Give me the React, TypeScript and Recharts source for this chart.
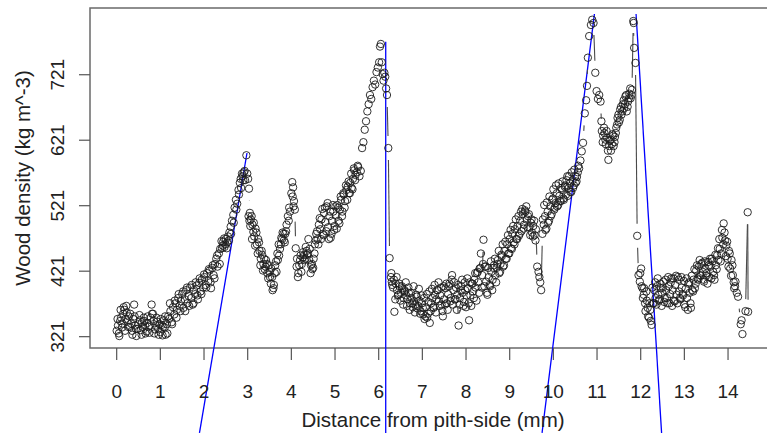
import { ScatterChart, Scatter, XAxis, YAxis, ReferenceLine, ReferenceArea } from 'recharts'

// density profile, ring by ring: [distance mm, density kg m^-3]
const ringA = [
  [0.00, 330], [0.03, 338], [0.05, 326], [0.08, 345], [0.10, 350], [0.13, 341], [0.15, 356], [0.18, 362],
  [0.20, 348], [0.23, 358], [0.25, 344], [0.28, 352], [0.30, 336], [0.33, 341], [0.35, 330], [0.38, 348],
  [0.40, 370], [0.42, 338], [0.45, 322], [0.48, 333], [0.50, 340], [0.53, 346], [0.55, 331], [0.58, 343],
  [0.60, 336], [0.63, 345], [0.65, 338], [0.68, 329], [0.70, 342], [0.73, 336], [0.75, 327], [0.78, 350],
  [0.80, 370], [0.83, 356], [0.85, 345], [0.88, 332], [0.90, 338], [0.93, 344], [0.95, 333], [0.98, 340],
  [1.00, 328], [1.03, 339], [1.05, 323], [1.08, 346], [1.10, 335], [1.12, 324], [1.15, 340], [1.18, 352],
]

const ringB = [
  [1.20, 348], [1.23, 360], [1.26, 343], [1.29, 366], [1.32, 355], [1.35, 372], [1.38, 362], [1.41, 380],
  [1.44, 368], [1.47, 375], [1.50, 386], [1.53, 365], [1.56, 378], [1.59, 392], [1.62, 372], [1.65, 383],
  [1.68, 396], [1.71, 380], [1.74, 370], [1.77, 392], [1.80, 386], [1.83, 399], [1.86, 378], [1.89, 403],
  [1.92, 390], [1.95, 408], [1.98, 396], [2.01, 412], [2.04, 400], [2.07, 418], [2.10, 406], [2.13, 422],
  [2.16, 395], [2.19, 426], [2.22, 415], [2.25, 432], [2.28, 440], [2.31, 428], [2.34, 448], [2.37, 455],
  [2.40, 467], [2.43, 460], [2.46, 471], [2.49, 462], [2.52, 456], [2.55, 474], [2.58, 480], [2.61, 489],
  [2.64, 498], [2.67, 507], [2.70, 518], [2.73, 530], [2.76, 524], [2.79, 545], [2.82, 556], [2.85, 548],
  [2.88, 566], [2.91, 572], [2.94, 560], [2.97, 598],
]

const ringC = [
  [2.99, 570], [3.01, 562], [3.03, 547], [3.05, 510], [3.07, 500], [3.09, 505], [3.11, 492], [3.13, 481],
  [3.15, 474], [3.18, 486], [3.21, 462], [3.24, 470], [3.27, 452], [3.30, 440], [3.33, 446], [3.36, 432],
  [3.39, 424], [3.42, 438], [3.45, 418], [3.48, 430], [3.51, 412], [3.54, 425], [3.57, 392], [3.60, 400],
  [3.62, 418], [3.65, 436], [3.68, 448], [3.71, 462], [3.74, 455], [3.77, 472], [3.80, 480], [3.83, 468],
  [3.86, 478], [3.89, 492], [3.92, 505], [3.95, 518], [3.97, 512], [4.00, 540], [4.02, 557], [4.04, 549],
  [4.06, 528], [4.08, 515], [4.10, 456], [4.13, 440], [4.15, 412], [4.18, 430], [4.21, 445], [4.24, 432],
  [4.27, 450], [4.30, 438], [4.33, 458], [4.36, 446], [4.39, 470], [4.42, 455], [4.45, 430], [4.48, 424],
  [4.51, 440], [4.54, 462], [4.57, 478], [4.60, 470], [4.63, 492], [4.66, 485], [4.69, 500], [4.72, 478],
  [4.75, 510], [4.78, 496], [4.81, 520], [4.84, 488], [4.87, 505], [4.90, 472], [4.93, 498], [4.96, 512],
  [4.99, 490], [5.02, 506], [5.05, 522], [5.08, 498], [5.11, 515], [5.14, 530], [5.17, 512], [5.20, 538],
  [5.23, 528], [5.26, 545], [5.29, 550], [5.32, 540], [5.35, 556], [5.38, 548], [5.41, 562], [5.44, 575],
  [5.47, 568], [5.50, 572], [5.53, 580], [5.56, 566], [5.59, 574], [5.62, 609], [5.65, 618], [5.68, 637],
  [5.71, 650], [5.74, 665], [5.77, 676], [5.80, 690], [5.83, 684], [5.86, 702], [5.89, 712], [5.92, 706],
  [5.95, 725], [5.98, 732], [6.01, 740], [6.03, 764], [6.05, 768], [6.07, 740], [6.09, 722], [6.11, 712],
  [6.13, 724], [6.15, 718], [6.17, 700], [6.19, 690], [6.22, 609], [6.25, 441],
]

const ringD = [
  [6.28, 412], [6.30, 405], [6.33, 396], [6.36, 359], [6.39, 402], [6.42, 392], [6.45, 385], [6.48, 398],
  [6.51, 388], [6.54, 395], [6.57, 380], [6.60, 390], [6.63, 384], [6.66, 378], [6.69, 388], [6.72, 372],
  [6.75, 380], [6.78, 366], [6.81, 375], [6.84, 370], [6.87, 382], [6.90, 368], [6.93, 376], [6.96, 360],
  [6.99, 372], [7.02, 355], [7.05, 348], [7.08, 366], [7.11, 350], [7.14, 374], [7.17, 342], [7.20, 372],
  [7.23, 380], [7.26, 365], [7.29, 385], [7.32, 378], [7.35, 392], [7.38, 375], [7.41, 384], [7.44, 370],
  [7.47, 352], [7.50, 378], [7.53, 395], [7.56, 372], [7.59, 386], [7.62, 402], [7.65, 380], [7.68, 415],
  [7.71, 392], [7.74, 378], [7.77, 396], [7.80, 385], [7.83, 338], [7.86, 380], [7.89, 398], [7.92, 388],
  [7.95, 374], [7.98, 392], [8.01, 384], [8.04, 395], [8.07, 346], [8.10, 384], [8.13, 402], [8.16, 390],
  [8.19, 408], [8.22, 396], [8.25, 418], [8.28, 404], [8.31, 425], [8.34, 448], [8.37, 415], [8.40, 469],
  [8.43, 428], [8.46, 405], [8.49, 385], [8.52, 412], [8.55, 398], [8.58, 420], [8.61, 408], [8.64, 430],
  [8.67, 415], [8.70, 426], [8.73, 438], [8.76, 418], [8.79, 432], [8.82, 444], [8.85, 428], [8.88, 452],
  [8.91, 440], [8.94, 462], [8.97, 448], [9.00, 470], [9.03, 456], [9.06, 478], [9.09, 465], [9.12, 485],
  [9.15, 470], [9.18, 490], [9.21, 475], [9.24, 498], [9.27, 482], [9.30, 508], [9.33, 492], [9.36, 512],
  [9.39, 500], [9.42, 505], [9.45, 488], [9.48, 495], [9.51, 480], [9.54, 490], [9.57, 476], [9.60, 485],
  [9.63, 428], [9.66, 420], [9.68, 412], [9.70, 404], [9.72, 392],
]

const ringE = [
  [9.75, 478], [9.78, 492], [9.81, 505], [9.84, 486], [9.87, 512], [9.90, 498], [9.93, 520], [9.96, 508],
  [9.99, 532], [10.02, 515], [10.05, 525], [10.08, 540], [10.11, 522], [10.14, 536], [10.17, 528], [10.20, 545],
  [10.23, 532], [10.26, 550], [10.29, 538], [10.32, 566], [10.35, 548], [10.38, 555], [10.41, 542], [10.44, 560],
  [10.47, 552], [10.50, 566], [10.53, 558], [10.56, 572], [10.59, 578], [10.62, 590], [10.65, 604], [10.68, 617],
  [10.72, 662], [10.75, 682], [10.77, 704], [10.79, 747], [10.82, 780], [10.86, 797], [10.89, 805], [10.92, 800],
  [10.96, 724], [10.99, 696], [11.02, 684], [11.05, 690], [11.08, 680], [11.11, 635], [11.14, 628], [11.17, 632],
  [11.20, 615], [11.23, 625], [11.26, 591], [11.29, 620], [11.32, 605], [11.35, 630], [11.38, 612], [11.41, 626],
  [11.44, 640], [11.47, 655], [11.50, 648], [11.53, 668], [11.56, 660], [11.59, 676], [11.62, 670], [11.65, 688],
  [11.68, 665], [11.71, 680], [11.74, 692], [11.77, 685], [11.80, 698], [11.83, 803], [11.85, 762], [11.88, 739],
]

const ringF = [
  [11.92, 475], [11.95, 415], [11.98, 405], [12.01, 425], [12.04, 395], [12.07, 385], [12.10, 372], [12.13, 390],
  [12.16, 365], [12.19, 350], [12.22, 362], [12.25, 339], [12.28, 372], [12.31, 392], [12.34, 380], [12.37, 398],
  [12.40, 385], [12.43, 378], [12.46, 395], [12.49, 388], [12.52, 405], [12.55, 380], [12.58, 392], [12.61, 372],
  [12.64, 398], [12.67, 386], [12.70, 410], [12.73, 392], [12.76, 376], [12.79, 400], [12.82, 385], [12.85, 412],
  [12.88, 390], [12.91, 378], [12.94, 396], [12.97, 384], [13.00, 370], [13.03, 394], [13.06, 380], [13.09, 402],
  [13.12, 388], [13.15, 365], [13.18, 392], [13.21, 408], [13.24, 395], [13.27, 422], [13.30, 410], [13.33, 428],
  [13.36, 415], [13.39, 432], [13.42, 420], [13.45, 405], [13.48, 425], [13.51, 418], [13.54, 435], [13.57, 412],
  [13.60, 428], [13.63, 440], [13.66, 420], [13.69, 408], [13.72, 430], [13.75, 445], [13.78, 438], [13.81, 455],
  [13.84, 448], [13.87, 472], [13.90, 494], [13.93, 468], [13.96, 460], [13.99, 440], [14.02, 452], [14.05, 425],
  [14.08, 438], [14.11, 415], [14.14, 395], [14.17, 405], [14.20, 388], [14.23, 382], [14.29, 340], [14.31, 346],
  [14.33, 325], [14.40, 360], [14.45, 511], [14.46, 359],
]

// the remaining overplotted measurements inside the dense bands (no connecting line visible there)
const cloudEarly = [
  [0.02, 348], [0.06, 322], [0.09, 362], [0.12, 335], [0.16, 366], [0.19, 330], [0.22, 368], [0.26, 336],
  [0.31, 356], [0.36, 324], [0.41, 352], [0.44, 333], [0.52, 354], [0.57, 324], [0.62, 350], [0.66, 326],
  [0.71, 352], [0.76, 338], [0.81, 356], [0.86, 326], [0.91, 350], [0.96, 324], [1.01, 348], [1.06, 336],
  [1.11, 352], [1.16, 326], [1.22, 372], [1.27, 340], [1.33, 376], [1.37, 350], [1.42, 386], [1.46, 360],
  [1.52, 390], [1.57, 360], [1.61, 396], [1.66, 368], [1.72, 400], [1.76, 372], [1.81, 404], [1.85, 384],
  [1.90, 410], [1.94, 386], [2.00, 416], [2.05, 396], [2.11, 424], [2.15, 404], [2.20, 430], [2.24, 410],
  [2.30, 445], [2.36, 432], [2.41, 456], [2.44, 466], [2.47, 458], [2.50, 470], [2.53, 465], [2.57, 468],
  [2.62, 478], [2.68, 495], [2.74, 515], [2.80, 538], [2.84, 562], [2.87, 570], [2.90, 560], [2.93, 574],
]

const cloudMid = [
  [3.02, 505], [3.04, 498], [3.06, 490], [3.10, 470], [3.14, 495], [3.17, 460], [3.20, 480], [3.23, 448],
  [3.26, 465], [3.29, 430], [3.32, 452], [3.35, 422], [3.38, 440], [3.41, 428], [3.44, 432], [3.47, 410],
  [3.50, 420], [3.53, 402], [3.56, 412], [3.59, 395], [3.63, 430], [3.66, 420], [3.69, 438], [3.72, 445],
  [3.76, 462], [3.79, 470], [3.82, 478], [3.85, 465], [3.88, 482], [3.94, 498], [4.03, 535], [4.05, 520],
  [4.12, 428], [4.16, 418], [4.20, 438], [4.23, 420], [4.26, 442], [4.29, 446], [4.32, 440], [4.35, 452],
  [4.38, 448], [4.41, 438], [4.44, 418], [4.47, 432], [4.50, 426], [4.53, 448], [4.56, 468], [4.59, 482],
  [4.62, 462], [4.65, 502], [4.68, 470], [4.71, 516], [4.74, 476], [4.77, 518], [4.80, 482], [4.83, 525],
  [4.86, 470], [4.89, 512], [4.92, 478], [4.95, 522], [4.98, 484], [5.01, 520], [5.04, 486], [5.07, 518],
  [5.10, 494], [5.13, 535], [5.16, 505], [5.19, 540], [5.22, 518], [5.25, 552], [5.28, 530], [5.31, 558],
  [5.34, 540], [5.37, 570], [5.40, 546], [5.43, 578], [5.46, 560], [5.52, 582],
]

const cloudLate = [
  [6.29, 418], [6.31, 400], [6.35, 408], [6.38, 378], [6.41, 412], [6.44, 384], [6.47, 402], [6.50, 376],
  [6.53, 398], [6.56, 370], [6.59, 392], [6.62, 404], [6.65, 368], [6.68, 396], [6.71, 362], [6.74, 388],
  [6.77, 372], [6.80, 398], [6.83, 358], [6.86, 385], [6.89, 364], [6.92, 394], [6.95, 356], [6.98, 384],
  [7.01, 365], [7.04, 380], [7.07, 352], [7.10, 386], [7.13, 356], [7.16, 390], [7.19, 360], [7.22, 394],
  [7.25, 366], [7.28, 400], [7.31, 358], [7.34, 392], [7.37, 404], [7.40, 368], [7.43, 396], [7.46, 360],
  [7.49, 398], [7.52, 370], [7.55, 402], [7.58, 362], [7.61, 398], [7.64, 375], [7.67, 408], [7.70, 370],
  [7.73, 404], [7.76, 378], [7.79, 362], [7.82, 400], [7.85, 370], [7.88, 392], [7.91, 408], [7.94, 368],
  [7.97, 404], [8.00, 366], [8.03, 410], [8.06, 372], [8.09, 404], [8.12, 368], [8.15, 402], [8.18, 380],
  [8.21, 418], [8.24, 376], [8.27, 420], [8.30, 388], [8.33, 426], [8.36, 396], [8.39, 432], [8.42, 398],
  [8.45, 428], [8.48, 388], [8.51, 426], [8.54, 400], [8.57, 436], [8.60, 392], [8.63, 426], [8.66, 440],
  [8.69, 404], [8.72, 432], [8.75, 452], [8.78, 420], [8.81, 446], [8.84, 462], [8.87, 430], [8.90, 466],
  [8.93, 440], [8.96, 476], [8.99, 448], [9.02, 484], [9.05, 455], [9.08, 490], [9.11, 462], [9.14, 500],
  [9.17, 470], [9.20, 505], [9.23, 478], [9.26, 512], [9.29, 516], [9.32, 486], [9.35, 514], [9.38, 520],
  [9.41, 488], [9.44, 508], [9.47, 476], [9.50, 500], [9.53, 474], [9.56, 498], [9.59, 468],
  [9.76, 500], [9.79, 522], [9.82, 484], [9.85, 526], [9.88, 495], [9.91, 535], [9.94, 505], [9.97, 530],
  [10.00, 546], [10.03, 518], [10.06, 552], [10.09, 520], [10.12, 555], [10.15, 528], [10.18, 548], [10.21, 558],
  [10.24, 530], [10.27, 552], [10.30, 560], [10.33, 536], [10.36, 566], [10.39, 542], [10.42, 572], [10.45, 548],
  [10.48, 576], [10.51, 556], [10.54, 565], [10.57, 582],
  [11.10, 650], [11.13, 618], [11.16, 640], [11.19, 622], [11.22, 635], [11.25, 605], [11.28, 612], [11.31, 622],
  [11.34, 615], [11.37, 628], [11.40, 618], [11.43, 632], [11.46, 645], [11.49, 660], [11.52, 652], [11.55, 672],
  [11.58, 665], [11.61, 682], [11.64, 676], [11.67, 690], [11.70, 672], [11.73, 685], [11.76, 700], [11.79, 690],
  [11.84, 800],
  [11.99, 418], [12.02, 398], [12.05, 380], [12.08, 395], [12.11, 360], [12.14, 376], [12.17, 352], [12.20, 372],
  [12.23, 345], [12.27, 396], [12.30, 372], [12.33, 404], [12.36, 370], [12.39, 410], [12.42, 376], [12.45, 402],
  [12.48, 368], [12.51, 396], [12.54, 374], [12.57, 408], [12.60, 380], [12.63, 412], [12.66, 372], [12.69, 404],
  [12.72, 368], [12.75, 410], [12.78, 375], [12.81, 414], [12.84, 372], [12.87, 408], [12.90, 380], [12.93, 412],
  [12.96, 386], [12.99, 406], [13.02, 366], [13.05, 410], [13.08, 362], [13.11, 404], [13.14, 372], [13.17, 414],
  [13.20, 390], [13.23, 424], [13.26, 402], [13.29, 430], [13.32, 408], [13.35, 438], [13.38, 414], [13.41, 434],
  [13.44, 408], [13.47, 436], [13.50, 414], [13.53, 402], [13.56, 430], [13.59, 440], [13.62, 410], [13.65, 436],
  [13.68, 415], [13.71, 446], [13.74, 424], [13.77, 456], [13.80, 470], [13.83, 436], [13.86, 484], [13.89, 462],
  [13.92, 480], [13.95, 444], [13.98, 466], [14.01, 428], [14.04, 448], [14.07, 414], [14.10, 430], [14.13, 404],
  [14.16, 398],
]

// blue tangent lines, [from, to] in data units
const tangents = [
  [[1.896, 174], [2.984, 601.5]],
  [[6.161, 174], [6.161, 771.5]],
  [[9.741, 174], [10.94, 813.8]],
  [[12.478, 174], [11.894, 813.8]],
]

const xTicks = [0, 1, 2, 3, 4, 5, 6, 7, 8, 9, 10, 11, 12, 13, 14]
const yTicks = [321, 421, 521, 621, 721]

const xDomain = [-0.611, 15.19]
const yDomain = [303.7, 822.9]

const toPoints = (rows: number[][]) => rows.map(([x, y]) => ({ x, y }))
const profile = toPoints([...ringA, ...ringB, ...ringC, ...ringD, ...ringE, ...ringF])
const cloud = toPoints([...cloudEarly, ...cloudMid, ...cloudLate])

const FONT = '"Liberation Sans", Arial, sans-serif'
const GAP = 12

// R style type="b": segments only where points are far enough apart
function GapLine(props: any) {
  const pts = props.points || []
  const segs = []
  for (let i = 1; i < pts.length; i++) {
    const a = pts[i - 1]
    const b = pts[i]
    const dx = b.x - a.x
    const dy = b.y - a.y
    const d = Math.hypot(dx, dy)
    if (d <= 2 * GAP) continue
    const ux = dx / d
    const uy = dy / d
    segs.push(
      <line key={i} x1={a.x + ux * GAP} y1={a.y + uy * GAP} x2={b.x - ux * GAP} y2={b.y - uy * GAP}
        stroke="#4a4a4a" strokeWidth={1.1} />
    )
  }
  return <g>{segs}</g>
}

const Ring = (p: any) => (
  <circle cx={p.cx} cy={p.cy} r={3.7} fill="none" stroke="#1c1c1c" strokeWidth={0.9} />
)

const XTick = ({ x, y, payload }: any) => (
  <text x={x} y={y + 36} textAnchor="middle" fontSize={19} fontFamily={FONT} fill="#222">{payload.value}</text>
)

const YTick = ({ x, y, payload }: any) => (
  <text x={x - 13} y={y} transform={`rotate(-90 ${x - 13} ${y})`} textAnchor="middle" fontSize={19}
    fontFamily={FONT} fill="#222">{payload.value}</text>
)

const XTitle = ({ viewBox }: any) => (
  <text x={viewBox.x + viewBox.width / 2 - 2} y={viewBox.y + viewBox.height - 6} textAnchor="middle"
    fontSize={20.5} fontFamily={FONT} fill="#222">Distance from pith-side (mm)</text>
)

const YTitle = ({ viewBox }: any) => {
  const cy = viewBox.y + viewBox.height / 2
  return (
    <text x={30} y={cy} transform={`rotate(-90 30 ${cy})`} textAnchor="middle" fontSize={20.5}
      fontFamily={FONT} fill="#222">Wood density (kg m^-3)</text>
  )
}

export default function App() {
  return (
    <div style={{ position: 'absolute', left: 0, top: 0, width: 767, height: 433, overflow: 'hidden', background: '#fff' }}>
      <ScatterChart width={780} height={433} margin={{ top: 8, right: 0, bottom: 0, left: 0 }}>
        <XAxis type="number" dataKey="x" domain={xDomain} allowDataOverflow ticks={xTicks} interval={0}
          height={85} axisLine={false} tickSize={12} tickLine={{ stroke: '#555', strokeWidth: 1.2 }}
          tick={<XTick />} label={{ content: <XTitle /> }} />
        <YAxis type="number" dataKey="y" domain={yDomain} allowDataOverflow ticks={yTicks} interval={0}
          width={90} axisLine={false} tickSize={11} tickLine={{ stroke: '#555', strokeWidth: 1.2 }}
          tick={<YTick />} label={{ content: <YTitle /> }} />
        <ReferenceArea x1={xDomain[0]} x2={xDomain[1]} y1={yDomain[0]} y2={yDomain[1]} fill="none"
          fillOpacity={0} stroke="#6a6a6a" strokeWidth={1.5} ifOverflow="visible" />
        <Scatter data={cloud} shape={<Ring />} isAnimationActive={false} />
        <Scatter data={profile} shape={<Ring />} line={GapLine} isAnimationActive={false} />
        {tangents.map((seg, i) => (
          <ReferenceLine key={i} segment={seg.map(([x, y]) => ({ x, y }))} stroke="#0000ff"
            strokeWidth={1.3} ifOverflow="visible" />
        ))}
      </ScatterChart>
    </div>
  )
}
